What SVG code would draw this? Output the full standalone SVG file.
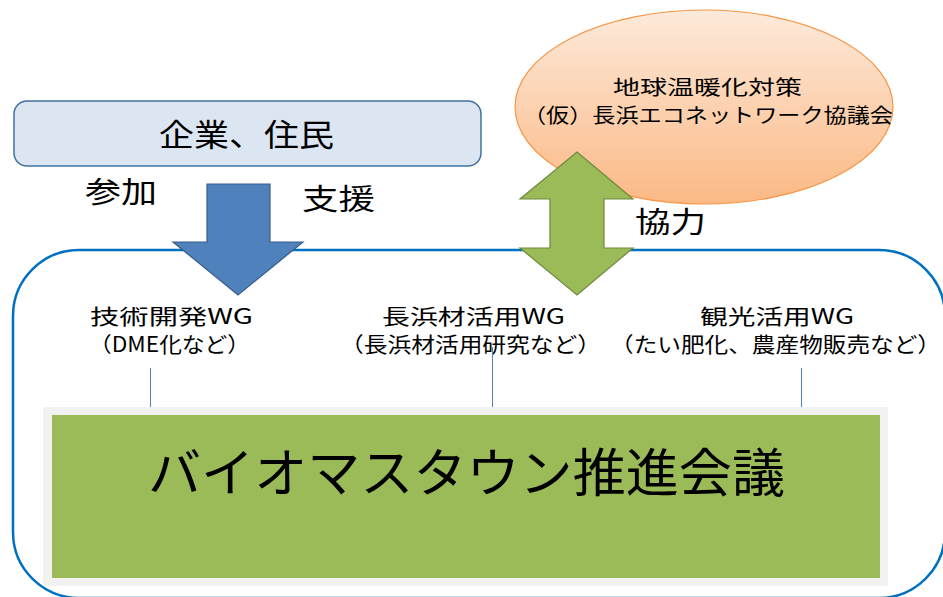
<svg xmlns="http://www.w3.org/2000/svg" width="943" height="597" viewBox="0 0 943 597">
<defs>
<linearGradient id="peach" x1="0" y1="0" x2="0" y2="1">
<stop offset="0" stop-color="#fdeadb"/>
<stop offset="1" stop-color="#fbb985"/>
</linearGradient>
<style>
text{font-family:"Noto Sans CJK JP","Noto Sans",sans-serif;fill:#000;}
.wg{font-size:21px;text-anchor:start;}
.lbl{font-size:29px;}
.link{stroke:#4f81bd;stroke-width:1;fill:none;}
</style>
</defs>
<rect width="943" height="597" fill="#ffffff"/>
<g id="frame">
<rect x="13" y="250" width="932" height="348" rx="66" ry="66" fill="none" stroke="#0070c0" stroke-width="2.5"/>
</g>
<g id="council">
<ellipse cx="704" cy="107" rx="189" ry="97" fill="url(#peach)" stroke="#f79646" stroke-width="1.2"/>
<text x="613" y="95" font-size="20" textLength="189" lengthAdjust="spacingAndGlyphs">地球温暖化対策</text>
<text x="523" y="123" font-size="20" textLength="370" lengthAdjust="spacingAndGlyphs">（仮）長浜エコネットワーク協議会</text>
</g>
<g id="citizens">
<rect x="14" y="101" width="467" height="65" rx="13" ry="13" fill="#dce6f2" stroke="#41719c" stroke-width="1.5"/>
<text x="159" y="146" font-size="31" textLength="175" lengthAdjust="spacingAndGlyphs">企業、住民</text>
</g>
<g id="main">
<rect x="43" y="407" width="845" height="179" fill="#f2f2f2"/>
<rect x="52" y="415" width="828" height="163" fill="#9bbb59"/>
<text x="148" y="492" font-size="52" textLength="637" lengthAdjust="spacingAndGlyphs">バイオマスタウン推進会議</text>
</g>
<g id="wg1">
<text class="wg" x="90" y="324" textLength="163" lengthAdjust="spacingAndGlyphs">技術開発WG</text>
<text class="wg" x="89" y="352" textLength="161" lengthAdjust="spacingAndGlyphs">（DME化など）</text>
</g>
<g id="wg2">
<text class="wg" x="382" y="324" textLength="183" lengthAdjust="spacingAndGlyphs">長浜材活用WG</text>
<text class="wg" x="340" y="352" textLength="261" lengthAdjust="spacingAndGlyphs">（長浜材活用研究など）</text>
</g>
<g id="wg3">
<text class="wg" x="700" y="324" textLength="154" lengthAdjust="spacingAndGlyphs">観光活用WG</text>
<text class="wg" x="610" y="352" textLength="331" lengthAdjust="spacingAndGlyphs">（たい肥化、農産物販売など）</text>
</g>
<g id="connectors">
<line class="link" x1="150.5" y1="368" x2="150.5" y2="407"/>
<line class="link" x1="492.5" y1="347" x2="492.5" y2="407"/>
<line class="link" x1="801.5" y1="368" x2="801.5" y2="407"/>
<polygon points="207,184 270,184 270,242 303,242 238,295 173,242 207,242" fill="#4f81bd" stroke="#385d8a" stroke-width="1.2"/>
<polygon points="577,152 633,199 604,199 604,248 633,248 577,295 520,248 550,248 550,199 520,199" fill="#9bbb59" stroke="#71893f" stroke-width="1.2"/>
<text class="lbl" x="85" y="203" textLength="72" lengthAdjust="spacingAndGlyphs">参加</text>
<text class="lbl" x="302" y="210" textLength="73" lengthAdjust="spacingAndGlyphs">支援</text>
<text class="lbl" x="635" y="233" textLength="71" lengthAdjust="spacingAndGlyphs">協力</text>
</g>
</svg>
